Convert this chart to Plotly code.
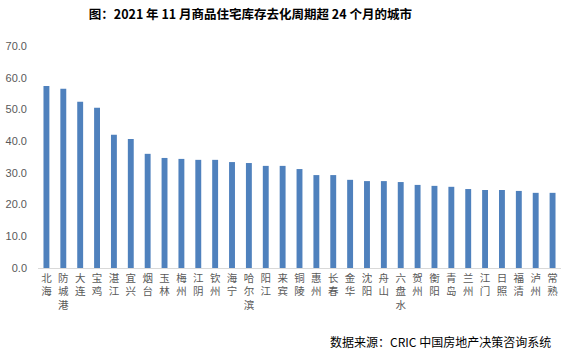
import plotly.graph_objects as go

cities = ["北海", "防城港", "大连", "宝鸡", "湛江", "宜兴", "烟台", "玉林", "梅州", "江阴",
          "钦州", "海宁", "哈尔滨", "阳江", "来宾", "铜陵", "惠州", "长春", "金华", "沈阳",
          "舟山", "六盘水", "贺州", "衡阳", "青岛", "兰州", "江门", "日照", "福清", "泸州", "常熟"]
values = [57.4, 56.5, 52.4, 50.5, 42.0, 40.7, 36.0, 34.7, 34.4, 34.1,
          34.1, 33.4, 33.1, 32.2, 32.2, 31.2, 29.3, 29.3, 27.8, 27.4,
          27.4, 27.1, 26.2, 25.9, 25.6, 24.9, 24.6, 24.6, 24.3, 23.7, 23.7]
y_ticks = [0, 10, 20, 30, 40, 50, 60, 70]

title_text = "图：2021 年 11 月商品住宅库存去化周期超 24 个月的城市"
source_text = "数据来源：CRIC 中国房地产决策咨询系统"

tick_text = ["<br>".join(list(c)) for c in cities]

fig = go.Figure(go.Bar(x=cities, y=values, marker_color="#4F81BD",
                       marker_line_width=0))

fig.update_layout(
    width=569, height=358,
    margin=dict(l=38, r=8, t=46, b=90),
    paper_bgcolor="white", plot_bgcolor="white",
    bargap=0.65,
    showlegend=False,
    font=dict(family="Noto Sans CJK SC", color="#595959"),
    title=dict(text="<b>" + title_text + "</b>", x=0.44, xanchor="center",
               y=0.96, yanchor="middle",
               font=dict(size=12.5, color="#000000", family="Noto Sans CJK SC")),
)
fig.update_xaxes(
    tickmode="array", tickvals=cities, ticktext=tick_text,
    tickangle=0, tickfont=dict(size=10.5, color="#595959"),
    showline=True, linecolor="#D9D9D9", linewidth=1,
    ticks="", showgrid=False, automargin=False,
)
fig.update_yaxes(
    range=[0, 70], tickvals=y_ticks, tickformat=".1f",
    tickfont=dict(size=11, color="#595959", family="Liberation Sans"),
    showgrid=False, zeroline=False, showline=False, ticks="",
    ticklabelstandoff=10,
    automargin=False,
)
fig.add_annotation(text=source_text, xref="paper", yref="paper",
                   x=0.985, y=-0.333, xanchor="right", yanchor="middle",
                   showarrow=False,
                   font=dict(size=12, color="#000000", family="Noto Sans CJK SC"))

fig.write_html("out.html", config={"displayModeBar": False},
               post_script="document.body.style.margin='0';document.body.style.overflow='hidden';")
